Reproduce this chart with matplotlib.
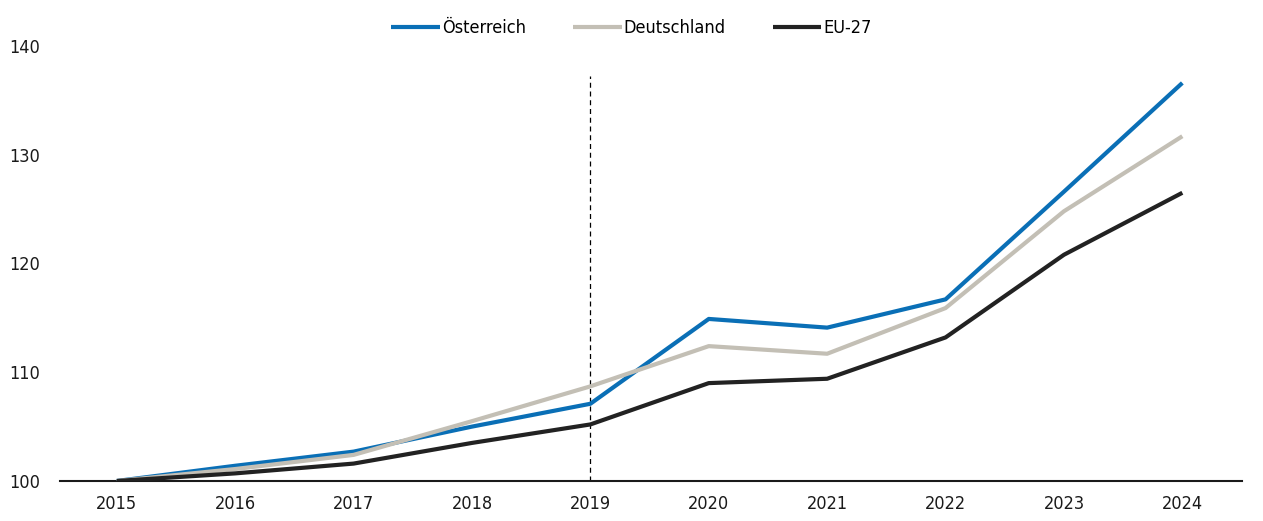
import matplotlib
matplotlib.use('Agg')
import matplotlib.pyplot as plt

# ===== DATA =====
YEARS = [2015, 2016, 2017, 2018, 2019, 2020, 2021, 2022, 2023, 2024]
AT = [100.0, 101.4, 102.7, 105.0, 107.1, 114.9, 114.1, 116.7, 126.6, 136.6]
DE = [100.0, 101.1, 102.4, 105.5, 108.7, 112.4, 111.7, 115.9, 124.8, 131.7]
EU = [100.0, 100.7, 101.6, 103.5, 105.2, 109.0, 109.4, 113.2, 120.8, 126.5]
LABELS = ['Österreich', 'Deutschland', 'EU-27']
Y_TICKS = [100, 110, 120, 130, 140]
MARK_YEAR = 2019
# ===== END DATA =====

plt.rcParams['font.family'] = ['DejaVu Sans']
plt.rcParams['font.stretch'] = 'condensed'

fig = plt.figure(figsize=(12.63, 5.21), dpi=100)
ax = fig.add_axes([0.0475, 0.0768, 0.9355, 0.835])

colors = ['#0a6fb6', '#c3bfb5', '#222222']
for vals, lab, col in zip([AT, DE, EU], LABELS, colors):
    ax.plot(YEARS, vals, color=col, linewidth=3, label=lab, solid_capstyle='butt', zorder=3)

# dashed marker line at 2019
ax.plot([MARK_YEAR, MARK_YEAR], [100, 137.2], color='black', linestyle=(0, (4, 3)), linewidth=0.9, zorder=2)

ax.set_xlim(2014.52, 2024.5)
ax.set_ylim(100, 140)
ax.set_xticks(YEARS)
ax.set_yticks(Y_TICKS)
ax.tick_params(axis='both', length=0, labelsize=13, colors='#1a1a1a')
ax.tick_params(axis='x', pad=10)
ax.tick_params(axis='y', pad=14)
for s in ['top', 'right', 'left']:
    ax.spines[s].set_visible(False)
ax.spines['bottom'].set_linewidth(1.5)
ax.spines['bottom'].set_color('#1a1a1a')

fig.legend(loc='center', bbox_to_anchor=(0.5, 0.946), ncol=3, frameon=False,
           fontsize=13, handlelength=2.7, handletextpad=0.1, columnspacing=2.6)

plt.savefig('out.png', dpi=100)
